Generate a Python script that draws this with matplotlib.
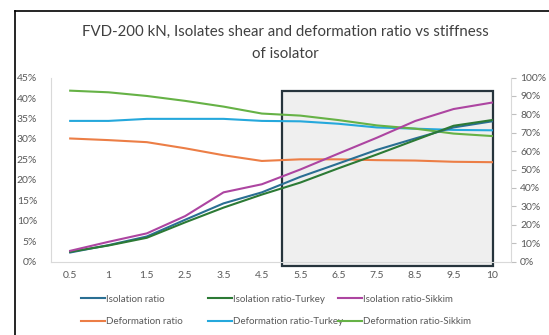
import matplotlib

matplotlib.use("Agg")
import matplotlib.pyplot as plt
from matplotlib.lines import Line2D
from matplotlib.patches import Rectangle
from matplotlib.ticker import FuncFormatter, MultipleLocator

plt.rcParams["font.family"] = ["Lato", "DejaVu Sans"]

# isolator stiffness categories (x axis)
stiffness = ["0.5", "1", "1.5", "2.5", "3.5", "4.5", "5.5", "6.5", "7.5", "8.5", "9.5", "10"]

# isolation (shear) ratios, secondary axis, percent
isolation = [4.9, 8.9, 13.6, 22.7, 31.6, 37.6, 46.0, 53.3, 60.7, 66.9, 72.9, 76.2]
isolation_turkey = [5.3, 8.7, 12.9, 21.3, 29.3, 36.4, 42.9, 50.7, 58.2, 66.0, 73.8, 76.9]
isolation_sikkim = [5.8, 10.7, 15.3, 24.7, 37.6, 42.0, 50.0, 58.7, 67.3, 76.4, 82.9, 86.4]

# deformation ratios, primary axis, percent
deformation = [30.1, 29.7, 29.2, 27.7, 26.0, 24.6, 25.0, 25.0, 24.8, 24.7, 24.4, 24.3]
deformation_turkey = [34.4, 34.4, 34.9, 34.9, 34.9, 34.4, 34.3, 33.7, 32.8, 32.5, 32.2, 32.1]
deformation_sikkim = [41.8, 41.4, 40.5, 39.3, 37.9, 36.2, 35.7, 34.6, 33.3, 32.5, 31.3, 30.7]

COLORS = {
    "Isolation ratio": "#2a6f93",
    "Deformation ratio": "#ec7e46",
    "Isolation ratio-Turkey": "#2c7a35",
    "Deformation ratio-Turkey": "#25a8dc",
    "Isolation ratio-Sikkim": "#ad45a1",
    "Deformation ratio-Sikkim": "#66b246",
}
TEXT = "#595959"
AXIS = "#d9d9d9"

fig = plt.figure(figsize=(5.49, 3.35), dpi=100)
ax = fig.add_axes([0.0929, 0.2194, 0.838, 0.549])
ax2 = ax.twinx()

x = list(range(len(stiffness)))

# highlighted stiffness range
ax.add_patch(Rectangle((5.53, -1.1), 5.49, 42.8, facecolor="#efefef",
                       edgecolor="#26343c", linewidth=1.6, zorder=1,
                       clip_on=False))

series_left = [
    ("Deformation ratio", deformation),
    ("Deformation ratio-Turkey", deformation_turkey),
    ("Deformation ratio-Sikkim", deformation_sikkim),
]
series_right = [
    ("Isolation ratio", isolation),
    ("Isolation ratio-Turkey", isolation_turkey),
    ("Isolation ratio-Sikkim", isolation_sikkim),
]
for name, vals in series_left:
    ax.plot(x, vals, color=COLORS[name], linewidth=1.5, zorder=3)
for name, vals in series_right:
    ax2.plot(x, vals, color=COLORS[name], linewidth=1.5, zorder=3)

ax.set_xlim(-0.5, len(stiffness) - 0.5)
ax.set_ylim(0, 45)
ax2.set_ylim(0, 100)
ax.set_xticks(x)
ax.set_xticklabels(stiffness)
ax.yaxis.set_major_locator(MultipleLocator(5))
ax2.yaxis.set_major_locator(MultipleLocator(10))
pct = FuncFormatter(lambda v, _pos: f"{v:.0f}%")
ax.yaxis.set_major_formatter(pct)
ax2.yaxis.set_major_formatter(pct)

for a in (ax, ax2):
    a.patch.set_visible(False)
    a.spines["top"].set_visible(False)
    for side in ("left", "right", "bottom"):
        a.spines[side].set_color(AXIS)
        a.spines[side].set_linewidth(0.8)
ax.spines["right"].set_visible(False)
ax2.spines["left"].set_visible(False)
ax2.spines["bottom"].set_visible(False)

ax.tick_params(axis="x", length=0, labelsize=7.5, labelcolor=TEXT, pad=7)
ax.tick_params(axis="y", length=0, labelsize=7.5, labelcolor=TEXT, pad=10)
ax2.tick_params(axis="y", length=3.5, color="#bfbfbf", width=0.8,
                labelsize=7.5, labelcolor=TEXT, pad=3)

fig.text(0.519, 0.905, "FVD-200 kN, Isolates shear and deformation ratio vs stiffness",
         ha="center", va="center", fontsize=10.8, color="#404040")
fig.text(0.519, 0.84, "of isolator", ha="center", va="center",
         fontsize=10.8, color="#404040")

# legend: three columns, isolation on top row, deformation below
columns = [
    ("Isolation ratio", "Deformation ratio"),
    ("Isolation ratio-Turkey", "Deformation ratio-Turkey"),
    ("Isolation ratio-Sikkim", "Deformation ratio-Sikkim"),
]
col_x = [0.147, 0.378, 0.615]
for cx, names in zip(col_x, columns):
    handles = [Line2D([], [], color=COLORS[n], linewidth=1.5) for n in names]
    fig.legend(handles, names, loc="center left", bbox_to_anchor=(cx, 0.073),
               frameon=False, fontsize=7, labelcolor=TEXT, handlelength=2.5,
               handletextpad=0.1, labelspacing=1.4, borderaxespad=0,
               borderpad=0)

# surrounding frame lines
fig.add_artist(Line2D([14.5 / 549, 1], [1 - 10.5 / 335] * 2, color="black",
                      linewidth=1.2, transform=fig.transFigure))
fig.add_artist(Line2D([14.5 / 549] * 2, [0, 1 - 10.5 / 335], color="black",
                      linewidth=1.2, transform=fig.transFigure))

fig.savefig("out.png", dpi=100)
